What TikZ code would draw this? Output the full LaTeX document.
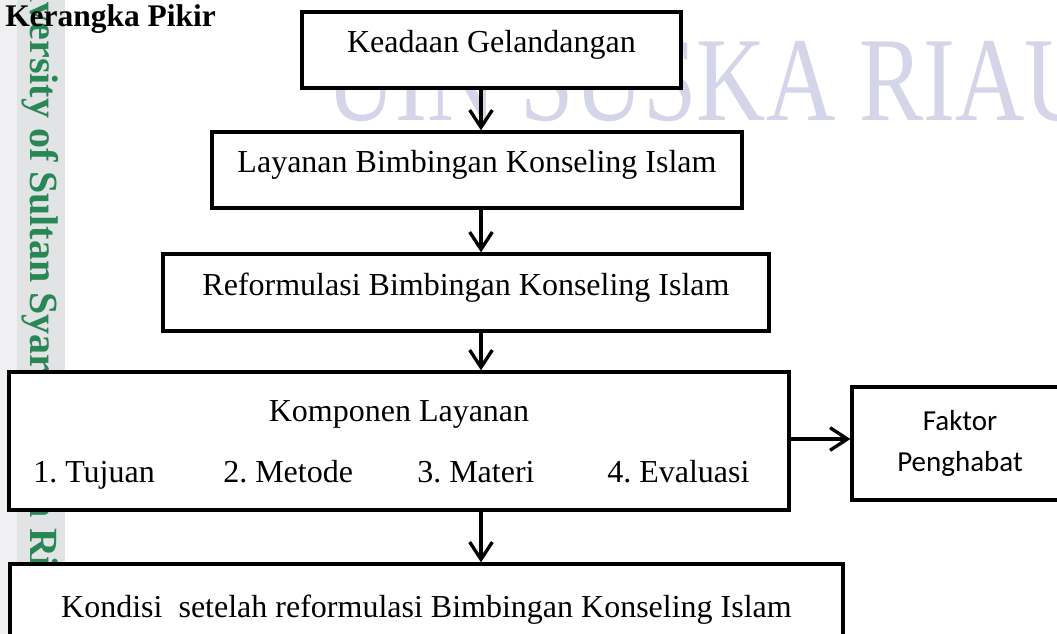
\documentclass[tikz,border=0pt]{standalone}
\usepackage{fontspec}
\setmainfont{Liberation Serif}
\newfontfamily\calibrifont{Carlito}
\newfontfamily\wmfont[FakeStretch=0.8]{Liberation Serif}
\usetikzlibrary{arrows.meta}
\definecolor{wmark}{RGB}{212,213,233}
\definecolor{wgreen}{RGB}{40,135,85}
\definecolor{stripA}{RGB}{240,240,242}
\definecolor{stripB}{RGB}{226,227,229}
\tikzset{
  x=0.75pt, y=-0.75pt,
  boxbase/.style={draw=black, line width=2.4pt, fill=white, rectangle, inner sep=0pt},
  box/.style={boxbase, font=\fontsize{24pt}{28pt}\selectfont, text height=15pt, text depth=10.5pt},
  txt/.style={inner sep=0pt, font=\fontsize{24pt}{28pt}\selectfont},
  arr/.style={line width=2.5pt, -{Straight Barb[length=13pt,width=17pt,line width=2.5pt]}}
}
\frenchspacing
\begin{document}
\begin{tikzpicture}
\useasboundingbox (0,0) rectangle (1057,634);
\clip (0,0) rectangle (1057,634);
\fill[white] (0,0) rectangle (1057,634);
% left strip watermark
\fill[stripA] (0,0) rectangle (17,634);
\fill[stripB] (17,0) rectangle (65,634);
\node[rotate=-90, anchor=base west, inner sep=0pt, text=wgreen,
  font=\fontsize{30pt}{34pt}\selectfont\bfseries] (wm1) at (30,-60) {University of Sultan Syarif Kasim Riau};
% top watermark
\node[anchor=base west, inner sep=0pt, text=wmark,
  font=\wmfont\fontsize{90pt}{95pt}\selectfont] (wm2) at (326,121) {UIN SUSKA RIAU};
% title
\node[anchor=base west, inner sep=0pt, font=\fontsize{23.6pt}{28pt}\selectfont\bfseries] (title) at (5,27) {Kerangka Pikir};
% boxes
\node[box, minimum width=284.25pt, minimum height=57pt] (b1) at (491.5,50) {Keadaan Gelandangan};
\node[box, minimum width=397.5pt, minimum height=57pt] (b2) at (477,170) {Layanan Bimbingan Konseling Islam};
\node[box, minimum width=454.5pt, minimum height=57.75pt] (b3) at (466,292.5) {Reformulasi Bimbingan Konseling Islam};
\node[boxbase, minimum width=585pt, minimum height=103.5pt] (b4) at (399,441) {};
\node[boxbase, minimum width=162pt, minimum height=84.75pt, align=center,
  font=\calibrifont\fontsize{21.75pt}{30.75pt}\selectfont] (fk) at (960,443.5) {Faktor\\Penghabat};
\node[box, minimum width=624.75pt, minimum height=75pt] (b5) at (426.5,614) {Kondisi~ setelah reformulasi Bimbingan Konseling Islam};
% texts inside b4
\node[txt, anchor=base] (k0) at (399,422) {Komponen Layanan};
\node[txt, anchor=base west] (k1) at (33,483) {1. Tujuan};
\node[txt, anchor=base west] (k2) at (223,483) {2. Metode};
\node[txt, anchor=base west] (k3) at (417,483) {3. Materi};
\node[txt, anchor=base west] (k4) at (607,483) {4. Evaluasi};
% arrows
\coordinate (ax) at (481,0);
\coordinate (ay) at (0,439);
\draw[arr] (b1.south -| ax) -- (b2.north -| ax);
\draw[arr] (b2.south -| ax) -- (b3.north -| ax);
\draw[arr] (b3.south -| ax) -- (b4.north -| ax);
\draw[arr] (b4.south -| ax) -- (b5.north -| ax);
\draw[arr] (b4.east |- ay) -- (fk.west |- ay);
\end{tikzpicture}
\end{document}
